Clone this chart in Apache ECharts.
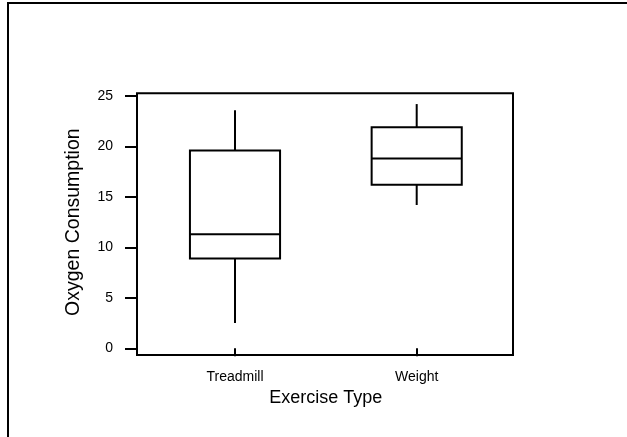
<!DOCTYPE html>
<html>
<head>
<meta charset="utf-8">
<style>
  html, body { margin: 0; padding: 0; background: #fff; overflow: hidden; }
  #chart { position: absolute; left: 0; top: 0; width: 627px; height: 437px; }
  #edge { position: absolute; left: 7px; top: 2px; width: 700px; height: 500px;
          border-top: 2px solid #000; border-left: 2px solid #000; pointer-events: none; }
</style>
<script src="https://cdn.jsdelivr.net/npm/echarts@6/dist/echarts.min.js"></script>
</head>
<body>
<div id="chart"></div>
<div id="edge"></div>
<script>
// Oxygen consumption by exercise type: five-number summaries
const categories = ['Treadmill', 'Weight'];
const whiskerLow = [2.5, 14.2];
const quartile1 = [8.9, 16.2];
const medians   = [11.3, 18.8];
const quartile3 = [19.6, 21.9];
const whiskerHigh = [23.6, 24.2];

const FONT = 'Liberation Sans, Arial, sans-serif';
const INK = '#000';

const boxData = categories.map((c, i) =>
  [i, whiskerLow[i], quartile1[i], medians[i], quartile3[i], whiskerHigh[i]]);

function renderBox(params, api) {
  const x = api.value(0);
  const lo = api.coord([x, api.value(1)]);
  const q1 = api.coord([x, api.value(2)]);
  const md = api.coord([x, api.value(3)]);
  const q3 = api.coord([x, api.value(4)]);
  const hi = api.coord([x, api.value(5)]);
  const half = api.size([1, 0])[0] * 0.248;
  const line = { stroke: INK, lineWidth: 2, fill: null };
  return {
    type: 'group',
    children: [
      { type: 'line', shape: { x1: lo[0], y1: lo[1], x2: q1[0], y2: q1[1] }, style: line },
      { type: 'line', shape: { x1: q3[0], y1: q3[1], x2: hi[0], y2: hi[1] }, style: line },
      { type: 'rect', shape: { x: q3[0] - half, y: q3[1], width: half * 2, height: q1[1] - q3[1] },
        style: { stroke: INK, lineWidth: 2, fill: '#fff' } },
      { type: 'line', shape: { x1: md[0] - half, y1: md[1], x2: md[0] + half, y2: md[1] }, style: line }
    ]
  };
}

const chart = echarts.init(document.getElementById('chart'), null, { renderer: 'canvas' });
chart.setOption({
  animation: false,
  backgroundColor: '#fff',
  grid: [
    // data area
    { left: 144.15, width: 363.4, top: 96, height: 252.3 },
    // plot frame
    { left: 137, width: 376, top: 93.3, height: 261.7, show: true,
      borderColor: INK, borderWidth: 2, backgroundColor: 'transparent' }
  ],
  xAxis: [
    {
      type: 'category', gridIndex: 0, data: categories, boundaryGap: true,
      offset: 6.7,
      axisLine: { show: false },
      axisTick: { show: true, alignWithLabel: true, length: 8, lineStyle: { color: INK, width: 2 } },
      axisLabel: { color: INK, fontFamily: FONT, fontSize: 14, margin: 15 },
      name: 'Exercise Type', nameLocation: 'middle', nameGap: 34,
      nameTextStyle: { color: INK, fontFamily: FONT, fontSize: 18 }
    },
    { type: 'value', gridIndex: 1, show: false }
  ],
  yAxis: [
    {
      type: 'value', gridIndex: 0, min: 0, max: 25, interval: 5,
      offset: 7.15,
      axisLine: { show: false },
      splitLine: { show: false },
      axisTick: { show: true, length: 12, lineStyle: { color: INK, width: 2 } },
      axisLabel: { color: INK, fontFamily: FONT, fontSize: 14, margin: 24 },
      name: 'Oxygen Consumption', nameLocation: 'middle', nameGap: 53,
      nameTextStyle: { color: INK, fontFamily: FONT, fontSize: 19.5 }
    },
    { type: 'value', gridIndex: 1, show: false }
  ],
  series: [{
    type: 'custom',
    xAxisIndex: 0, yAxisIndex: 0,
    renderItem: renderBox,
    encode: { x: 0, y: [1, 2, 3, 4, 5] },
    data: boxData,
    silent: true
  }]
});
</script>
</body>
</html>
